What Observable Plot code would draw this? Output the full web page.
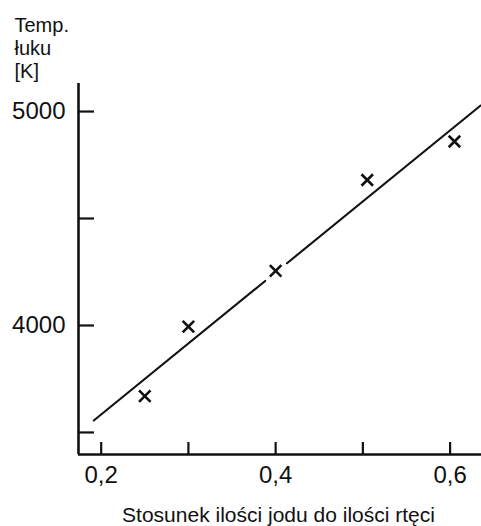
<!DOCTYPE html>
<html>
<head>
<meta charset="utf-8">
<script src="https://cdn.jsdelivr.net/npm/d3@7"></script>
<script src="https://cdn.jsdelivr.net/npm/@observablehq/plot@0.6"></script>
<style>
  html, body { margin: 0; padding: 0; background: #fff; }
</style>
</head>
<body>
<div id="chart"></div>
<script>
// Measured points (ratio of iodine to mercury, arc temperature in K)
const ratio = [0.25, 0.30, 0.40, 0.505, 0.605];
const temp = [3670, 3995, 4255, 4680, 4860];

// Fitted straight line (drawn in two pieces, broken around the 0,4 point)
const fitX = [0.1915, 0.388, 0.413, 0.635];
const fitY = [3556, 4208, 4291, 5028];
const fitPiece = ["a", "a", "b", "b"];

// Axis ticks and labels
const xTicks = [0.2, 0.3, 0.4, 0.5, 0.6];
const xTickLabels = [0.2, 0.4, 0.6];
const yTicks = [3500, 4000, 4500, 5000];
const yTickLabels = [4000, 5000];
const xDomain = [0.174, 0.636];
const yDomain = [3397, 5131];

const titleText = "Temp.\nłuku\n[K]";
const xLabel = "Stosunek ilości jodu do ilości rtęci";

const W = 481, H = 526;
const mL = 78, mR = 0, mT = 83, mB = 72;
const frameW = W - mL - mR, frameH = H - mT - mB;

const points = ratio.map((r, i) => ({r, t: temp[i]}));
const fit = fitX.map((x, i) => ({x, y: fitY[i], p: fitPiece[i]}));

const chart = Plot.plot({
  width: W,
  height: H,
  marginLeft: mL,
  marginRight: mR,
  marginTop: mT,
  marginBottom: mB,
  style: {fontFamily: "'Liberation Sans', Arial, sans-serif", color: "#111", background: "#fff"},
  x: {domain: xDomain},
  y: {domain: yDomain},
  marks: [
    // tick labels
    Plot.axisY({ticks: yTickLabels, tickSize: 0, tickPadding: 13, fontSize: 24, label: null,
      tickFormat: d => String(d)}),
    Plot.axisX({ticks: xTickLabels, tickSize: 0, tickPadding: 11, fontSize: 24, label: null,
      tickFormat: d => d.toFixed(1).replace(".", ",")}),
    // inward ticks
    Plot.tickY(yTicks, {y: d => d, stroke: "#111", strokeWidth: 2.2, insetRight: frameW - 16}),
    Plot.tickX(xTicks, {x: d => d, stroke: "#111", strokeWidth: 2.2, insetTop: frameH - 12}),
    // axis lines
    Plot.ruleX([xDomain[0]], {stroke: "#111", strokeWidth: 2.6}),
    Plot.ruleY([yDomain[0]], {stroke: "#111", strokeWidth: 2.6}),
    // fitted line
    Plot.line(fit, {x: "x", y: "y", z: "p", stroke: "#111", strokeWidth: 2.1}),
    // data markers
    Plot.dot(points, {x: "r", y: "t", symbol: "times", r: 5.3, stroke: "#111", strokeWidth: 2.6}),
    // y title
    Plot.text([titleText], {frameAnchor: "top-left", dx: -64, dy: -68, lineAnchor: "top",
      textAnchor: "start", fontSize: 20, lineHeight: 1.15, fill: "#111"}),
    // x label
    Plot.text([xLabel], {frameAnchor: "bottom", dx: -1.5, dy: 53, lineAnchor: "top",
      fontSize: 21, fill: "#111"})
  ]
});
document.getElementById("chart").appendChild(chart);
</script>
</body>
</html>
